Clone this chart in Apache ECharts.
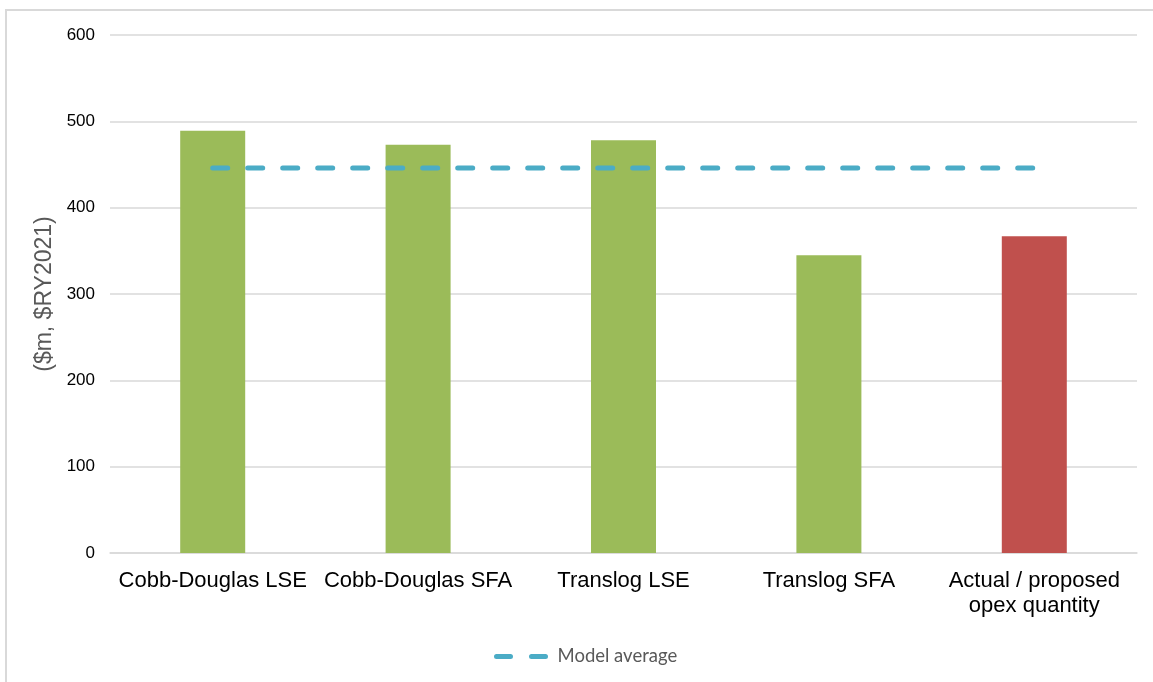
<!DOCTYPE html>
<html>
<head>
<meta charset="utf-8">
<script src="https://cdn.jsdelivr.net/npm/echarts@6/dist/echarts.min.js"></script>
<style>
  html, body { margin: 0; padding: 0; background: #ffffff; }
  #chart { width: 1153px; height: 682px; }
</style>
</head>
<body>
<div id="chart"></div>
<script>
// Opex forecasts by econometric model ($m, $RY2021)
const categories = [
  'Cobb-Douglas LSE',
  'Cobb-Douglas SFA',
  'Translog LSE',
  'Translog SFA',
  'Actual / proposed\nopex quantity'
];
const modelValues = [489, 473, 478, 345, 367];
const modelAverage = [446, 446, 446, 446, 446];
const yTicks = { min: 0, max: 600, interval: 100 };

const GREEN = '#9BBB59';
const RED = '#C0504D';
const TEAL = '#4BACC6';

const barData = modelValues.map((v, i) => ({
  value: v,
  itemStyle: { color: i === modelValues.length - 1 ? RED : GREEN }
}));

// two round-capped dashes for the legend key
const dashIcon = 'path://M2.5,0 h14 a2.5,2.5 0 0 1 0,5 h-14 a2.5,2.5 0 0 1 0,-5 z ' +
                 'M37.5,0 h14 a2.5,2.5 0 0 1 0,5 h-14 a2.5,2.5 0 0 1 0,-5 z';

const chart = echarts.init(document.getElementById('chart'), null, { renderer: 'canvas' });

chart.setOption({
  backgroundColor: '#ffffff',
  animation: false,
  graphic: [{
    type: 'polyline',
    silent: true,
    shape: { points: [[6, 700], [6, 10], [1160, 10]] },
    style: { stroke: '#D9D9D9', lineWidth: 2, fill: null }
  }],
  grid: { left: 110, right: 16, top: 35, bottom: 129 },
  legend: {
    data: [{ name: 'Model average', icon: dashIcon }],
    bottom: 16,
    left: 494,
    padding: 0,
    itemWidth: 55,
    itemHeight: 5,
    itemGap: 10,
    textStyle: {
      color: '#595959',
      fontSize: 18.5,
      padding: [0, 0, 0, 4],
      fontFamily: 'Lato, "Open Sans", sans-serif'
    }
  },
  xAxis: {
    type: 'category',
    data: categories,
    boundaryGap: true,
    axisLine: { lineStyle: { color: '#D9D9D9', width: 1.5 } },
    axisTick: { show: false },
    axisLabel: {
      color: '#000000',
      fontSize: 22,
      lineHeight: 25,
      margin: 15,
      interval: 0,
      fontFamily: 'Arial, "Liberation Sans", sans-serif'
    }
  },
  yAxis: {
    type: 'value',
    min: yTicks.min,
    max: yTicks.max,
    interval: yTicks.interval,
    name: '($m, $RY2021)',
    nameLocation: 'middle',
    nameGap: 49,
    nameTextStyle: {
      color: '#595959',
      fontSize: 23,
      fontFamily: 'Arial, "Liberation Sans", sans-serif'
    },
    axisLine: { show: false },
    axisTick: { show: false },
    splitLine: { lineStyle: { color: '#D9D9D9', width: 1.5 } },
    axisLabel: {
      color: '#000000',
      fontSize: 17,
      margin: 15,
      fontFamily: 'Arial, "Liberation Sans", sans-serif'
    }
  },
  series: [
    {
      name: 'Opex',
      type: 'bar',
      data: barData,
      barWidth: 65,
      z: 2
    },
    {
      name: 'Model average',
      type: 'line',
      data: modelAverage,
      symbol: 'none',
      z: 3,
      itemStyle: { color: TEAL },
      lineStyle: {
        color: TEAL,
        width: 5,
        type: [15, 20],
        cap: 'round'
      }
    }
  ]
});
</script>
</body>
</html>
